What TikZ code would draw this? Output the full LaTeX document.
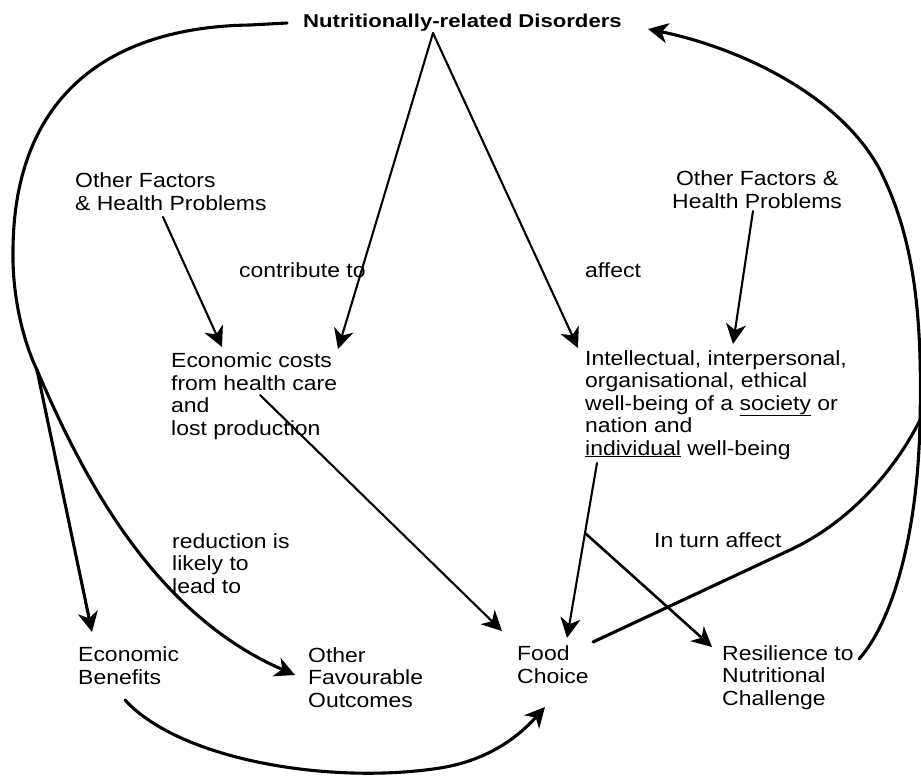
\documentclass[tikz,border=0pt]{standalone}
\usepackage{fontspec}
\setmainfont{Liberation Sans}[FakeStretch=1.12]
\newfontfamily\titlefont{Liberation Sans}[FakeStretch=1.19]
\usetikzlibrary{arrows.meta,calc}
\begin{document}
\begin{tikzpicture}[x=1pt,y=-1pt,
  lbl/.style={inner sep=0pt, anchor=base west, align=left, font=\fontsize{20.5}{22.5}\selectfont},
  ttl/.style={inner sep=0pt, anchor=base west, font=\titlefont\bfseries\fontsize{18.6}{20}\selectfont},
  thinline/.style={line width=2.1pt},
  heavyline/.style={line width=3.1pt},
  tip/.style={-{Stealth[length=20pt,width=20pt,inset=6pt]}},
  line cap=round, line join=round]
\fill[white] (0,0) rectangle (921,777);
\useasboundingbox (0,0) rectangle (921,777);

% ---- nodes (anchored at the baseline of their last line) ----
\node[ttl] (nrd) at (303,27) {Nutritionally-related Disorders};
\node[lbl] (ofl) at (75,210) {Other Factors\\\& Health Problems};
\node[lbl] (ctb) at (239,277) {contribute to};
\node[lbl] (ecc) at (171,435) {Economic costs\\from health care\\and\\lost production};
\node[lbl, align=center] (ofr) at (672,208) {Other Factors \&\\Health Problems};
\node[lbl] (aff) at (585,277) {affect};
\node[lbl] (iwb) at (585,455) {Intellectual, interpersonal,\\organisational, ethical\\well-being of a \underline{society} or\\nation and\\\underline{individual} well-being};
\node[lbl] (red) at (172,593) {reduction is\\likely to\\lead to};
\node[lbl] (ita) at (654,547) {In turn affect};
\node[lbl] (ebn) at (78,684) {Economic\\Benefits};
\node[lbl] (ofo) at (308,707) {Other\\Favourable\\Outcomes};
\node[lbl] (fch) at (517,683) {Food\\Choice};
\node[lbl] (res) at (722,705) {Resilience to\\Nutritional\\Challenge};

% ---- connector end points ----
\coordinate (apex) at ($(nrd.base west)+(130,6)$);
\coordinate (eccTopR) at ($(ecc.base west)+(167,-86)$);
\coordinate (eccTopL) at ($(ecc.base west)+(51,-88)$);
\coordinate (eccOut) at ($(ecc.base west)+(89,-40)$);
\coordinate (iwbTopL) at ($(iwb.base west)+(-7,-107)$);
\coordinate (iwbTopR) at ($(iwb.base west)+(148,-111)$);
\coordinate (iwbOut) at ($(iwb.base west)+(12,8)$);
\coordinate (oflOut) at ($(ofl.base west)+(88,7)$);
\coordinate (ofrOut) at ($(ofr.base west)+(81,3)$);
\coordinate (fchTopL) at ($(fch.base west)+(-15,-52)$);
\coordinate (fchTop) at ($(fch.base west)+(50,-45)$);
\coordinate (fchOut) at ($(fch.base west)+(76,-41)$);
\coordinate (fchBot) at ($(fch.base west)+(28,24)$);
\coordinate (resIn) at ($(res.base west)+(-10,-58)$);
\coordinate (resOut) at ($(res.base west)+(137,-46)$);
\coordinate (ebnTop) at ($(ebn.base west)+(14,-52)$);
\coordinate (ebnOut) at ($(ebn.base west)+(47,16)$);
\coordinate (ofoIn) at ($(ofo.base west)+(-13,-32)$);
\coordinate (nrdL) at ($(nrd.base west)+(-16,-4)$);
\coordinate (nrdR) at ($(nrd.base east)+(26,2)$);
\coordinate (split) at (37,370);
\coordinate (rmerge) at (920,420);
\coordinate (branch) at ($(iwbOut)!0.4!(fchTop)$);

% ---- straight connectors ----
\draw[thinline,tip] (apex) -- (eccTopR);
\draw[thinline,tip] (apex) -- (iwbTopL);
\draw[thinline,tip] (oflOut) -- (eccTopL);
\draw[thinline,tip] (ofrOut) -- (iwbTopR);
\draw[thinline,tip] (eccOut) -- (fchTopL);
\draw[thinline,tip] (iwbOut) -- (fchTop);
\draw[line width=2.6pt,tip] (branch) -- (resIn);

% ---- left big curve ----
\draw[heavyline] (nrdL) -- (250,25) .. controls (110,27) and (14,95) .. (13,250)
  .. controls (12,300) and (25,345) .. (split);
\draw[heavyline,tip] (split) -- (ebnTop);
\draw[heavyline,tip] (split) .. controls (80,470) and (150,612) .. (ofoIn);

% ---- bottom curve ----
\draw[heavyline,tip] (ebnOut) .. controls (180,760) and (330,785) .. (440,768)
  .. controls (490,760) and (520,735) .. (fchBot);

% ---- right curves ----
\draw[heavyline] (fchOut) -- (790,550) .. controls (850,522) and (895,470) .. (rmerge);
\draw[heavyline,tip] (resOut) .. controls (890,625) and (918,540) .. (rmerge)
  .. controls (923,300) and (910,230) .. (880,170)
  .. controls (840,95) and (740,48) .. (nrdR);
\end{tikzpicture}
\end{document}
